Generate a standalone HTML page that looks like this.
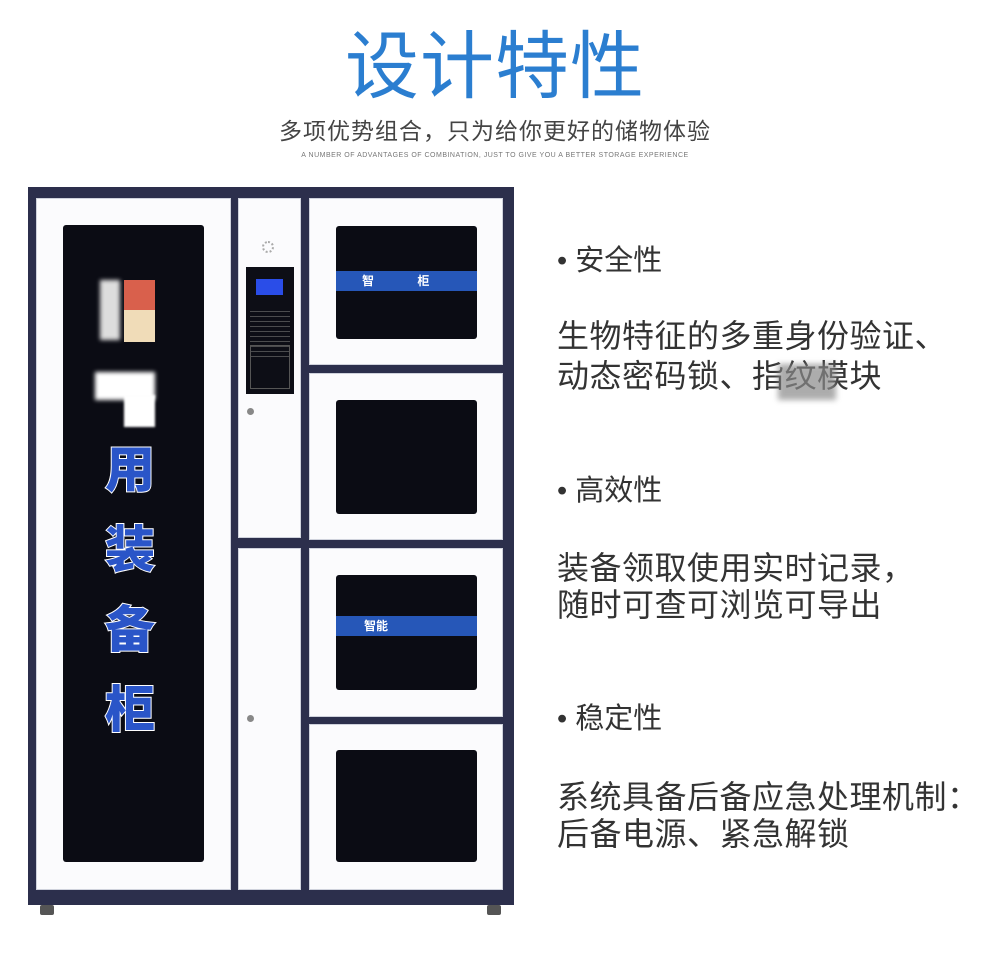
<!DOCTYPE html>
<html><head><meta charset="utf-8"><style>
*{margin:0;padding:0;box-sizing:border-box}
body{width:990px;height:966px;background:#fff;position:relative;overflow:hidden;font-family:"Liberation Sans","Noto Sans CJK SC",sans-serif}
.a{position:absolute}
.t{color:#333;font-size:32px;letter-spacing:0.5px;white-space:nowrap;line-height:1}
.h{color:#333;font-size:29px;white-space:nowrap;line-height:1}
.door{background:#fbfbfd;border:1px solid #cfd2dc}
.glass{background:#0b0c14;border-radius:3px}
.band{background:#2657b8;height:20px;color:#fff;font-size:12px;font-weight:bold;line-height:20px;padding-left:26px}
.vt{color:#2a55c8;font-size:50px;font-weight:900;-webkit-text-stroke:2px #fff;paint-order:stroke fill;line-height:1}
</style></head><body>
<div class="a" style="left:0;top:30px;width:990px;text-align:center;color:#2b7ed0;font-size:74px;letter-spacing:1px;line-height:1">设计特性</div>
<div class="a" style="left:0;top:120px;width:990px;text-align:center;color:#444;font-size:23px;letter-spacing:1px;line-height:1">多项优势组合，只为给你更好的储物体验</div>
<div class="a" style="left:0;top:152px;width:990px;text-align:center;color:#777;font-size:7px;letter-spacing:.5px">A NUMBER OF ADVANTAGES OF COMBINATION, JUST TO GIVE YOU A BETTER STORAGE EXPERIENCE</div>

<div class="a" style="left:28px;top:187px;width:486px;height:718px;background:#2c2f4c"></div>
<div class="a" style="left:40px;top:905px;width:14px;height:10px;background:#555;border-radius:2px"></div>
<div class="a" style="left:487px;top:905px;width:14px;height:10px;background:#555;border-radius:2px"></div>
<div class="a door" style="left:36px;top:198px;width:195px;height:692px"></div>
<div class="a glass" style="left:63px;top:225px;width:141px;height:637px"></div>
<div class="a" style="left:100px;top:280px;width:20px;height:60px;background:#ddd;filter:blur(2px)"></div>
<div class="a" style="left:124px;top:280px;width:31px;height:30px;background:#d9604c"></div>
<div class="a" style="left:124px;top:310px;width:31px;height:32px;background:#f0dcb8"></div>
<div class="a" style="left:95px;top:372px;width:60px;height:28px;background:#fff;filter:blur(2px)"></div>
<div class="a" style="left:124px;top:395px;width:31px;height:32px;background:#fff;filter:blur(1px)"></div>
<div class="a vt" style="left:105px;top:445px">用</div>
<div class="a vt" style="left:105px;top:525px">装</div>
<div class="a vt" style="left:105px;top:605px">备</div>
<div class="a vt" style="left:105px;top:685px">柜</div>

<div class="a door" style="left:238px;top:198px;width:63px;height:340px"></div>
<div class="a" style="left:262px;top:241px;width:12px;height:12px;border-radius:50%;border:2px dotted #aaa"></div>
<div class="a" style="left:246px;top:267px;width:48px;height:127px;background:#0d0e16"></div>
<div class="a" style="left:256px;top:279px;width:27px;height:16px;background:#2a4de8"></div>
<div class="a" style="left:250px;top:307px;width:40px;height:50px;background:repeating-linear-gradient(#0d0e16 0 4px,#666 4px 5px);opacity:.7"></div>
<div class="a" style="left:250px;top:345px;width:40px;height:44px;border:1px solid #555"></div>
<div class="a" style="left:247px;top:408px;width:7px;height:7px;border-radius:50%;background:#888"></div>
<div class="a door" style="left:238px;top:548px;width:63px;height:342px"></div>
<div class="a" style="left:247px;top:715px;width:7px;height:7px;border-radius:50%;background:#888"></div>

<div class="a door" style="left:309px;top:198px;width:194px;height:167px"></div>
<div class="a glass" style="left:336px;top:226px;width:141px;height:113px"></div>
<div class="a band" style="left:336px;top:271px;width:141px">智 &nbsp;&nbsp;&nbsp;&nbsp;&nbsp;&nbsp;&nbsp;&nbsp;&nbsp;&nbsp;&nbsp;&nbsp;柜</div>
<div class="a door" style="left:309px;top:373px;width:194px;height:167px"></div>
<div class="a glass" style="left:336px;top:400px;width:141px;height:114px"></div>
<div class="a door" style="left:309px;top:548px;width:194px;height:169px"></div>
<div class="a glass" style="left:336px;top:575px;width:141px;height:115px"></div>
<div class="a band" style="left:336px;top:616px;width:141px;padding-left:28px">智能</div>
<div class="a door" style="left:309px;top:724px;width:194px;height:166px"></div>
<div class="a glass" style="left:336px;top:750px;width:141px;height:112px"></div>

<div class="a h" style="left:557px;top:247px">• 安全性</div>
<div class="a t" style="left:557px;top:320px">生物特征的多重身份验证、</div>
<div class="a t" style="left:557px;top:360px">动态密码锁、指纹模块</div>
<div class="a" style="left:778px;top:364px;width:58px;height:36px;background:#8a8a8a;filter:blur(3px);opacity:.7"></div>
<div class="a h" style="left:557px;top:477px">• 高效性</div>
<div class="a t" style="left:557px;top:552px">装备领取使用实时记录，</div>
<div class="a t" style="left:557px;top:589px">随时可查可浏览可导出</div>
<div class="a h" style="left:557px;top:705px">• 稳定性</div>
<div class="a t" style="left:557px;top:781px">系统具备后备应急处理机制：</div>
<div class="a t" style="left:557px;top:818px">后备电源、紧急解锁</div>
</body></html>
